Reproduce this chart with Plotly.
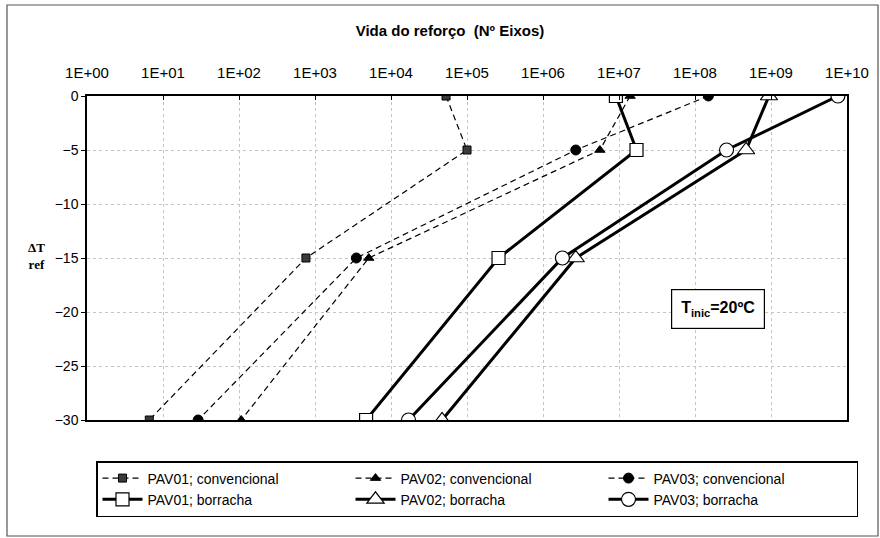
import plotly.graph_objects as go

# ---- data ----
delta_t = [0, -5, -15, -30]
pav01_conv = [5.3e4, 1.0e5, 7.6e2, 6.6]
pav02_conv = [1.4e7, 5.6e6, 5.1e3, 1.07e2]
pav03_conv = [1.5e8, 2.7e6, 3.5e3, 29]
pav01_borr = [9.1e6, 1.7e7, 2.6e5, 4.7e3]
pav02_borr = [9.4e8, 4.7e8, 2.7e6, 4.7e4]
pav03_borr = [7.6e9, 2.6e8, 1.8e6, 1.7e4]

x_tickvals = [1e0, 1e1, 1e2, 1e3, 1e4, 1e5, 1e6, 1e7, 1e8, 1e9, 1e10]
x_ticktext = ["1E+00", "1E+01", "1E+02", "1E+03", "1E+04", "1E+05",
              "1E+06", "1E+07", "1E+08", "1E+09", "1E+10"]
y_tickvals = [0, -5, -10, -15, -20, -25, -30]

FONT = "Liberation Sans, Arial, sans-serif"
W, H = 880, 538
L, R, T, B = 87, 33, 96, 118
PW, PH = W - L - R, H - T - B

def px_x(px):
    return (px - L) / PW

def px_y(py):
    return 1 - (py - T) / PH

fig = go.Figure()

conv = [
    ("PAV01; convencional", pav01_conv, "square", 8, "#3a3a3a"),
    ("PAV02; convencional", pav02_conv, "triangle-up", 9, "black"),
    ("PAV03; convencional", pav03_conv, "circle", 10, "black"),
]
borr = [
    ("PAV01; borracha", pav01_borr, "square", 13),
    ("PAV02; borracha", pav02_borr, "triangle-up", 15),
    ("PAV03; borracha", pav03_borr, "circle", 14),
]

for name, xs, sym, size, col in conv:
    fig.add_trace(go.Scatter(
        x=xs, y=delta_t, name=name, mode="lines+markers",
        line=dict(color="black", width=1.2, dash="6px,4px"),
        marker=dict(symbol=sym, size=size, color=col,
                    line=dict(color="black", width=1)),
    ))

for name, xs, sym, size in borr:
    fig.add_trace(go.Scatter(
        x=xs, y=delta_t, name=name, mode="lines+markers",
        line=dict(color="black", width=3),
        marker=dict(symbol=sym, size=size, color="white",
                    line=dict(color="black", width=1.2)),
    ))

fig.update_layout(
    width=W, height=H,
    margin=dict(l=L, r=R, t=T, b=B, autoexpand=False),
    paper_bgcolor="white", plot_bgcolor="white",
    font=dict(family=FONT, size=14, color="black"),
    title=dict(text="<b>Vida do reforço  (Nº Eixos)</b>",
               x=450 / W, xref="container", xanchor="center",
               y=1 - 31 / H, yref="container", yanchor="middle",
               font=dict(family=FONT, size=15, color="black")),
    showlegend=True,
    legend=dict(orientation="h", x=px_x(96), y=px_y(461),
                xanchor="left", yanchor="top",
                bordercolor="black", borderwidth=1.5,
                font=dict(family=FONT, size=14, color="black"),
                entrywidth=198, itemwidth=40,
                traceorder="normal", bgcolor="white",
                tracegroupgap=0),
)

fig.update_xaxes(
    type="log", range=[0, 10], side="top", automargin=False,
    tickvals=x_tickvals, ticktext=x_ticktext,
    ticks="inside", ticklen=4, tickcolor="black", ticklabelstandoff=10,
    showline=True, linecolor="black", linewidth=1.5, mirror=True,
    showgrid=True, gridcolor="#c4c4c4", griddash="dot", gridwidth=1,
    tickfont=dict(family=FONT, size=15), zeroline=False,
)
fig.update_yaxes(
    range=[-30, 0], tickvals=y_tickvals, automargin=False,
    ticks="outside", ticklen=4, tickcolor="black",
    showline=True, linecolor="black", linewidth=1.5, mirror=True,
    showgrid=True, gridcolor="#c4c4c4", griddash="dot", gridwidth=1,
    tickfont=dict(family=FONT, size=14), zeroline=False,
)

# y-axis label
fig.add_annotation(
    text="<b>ΔT<br>ref</b>", xref="paper", yref="paper",
    x=px_x(26), y=px_y(256), showarrow=False,
    font=dict(family="Liberation Serif, Times New Roman, serif", size=13),
    align="center",
)

# T inic box
fig.add_annotation(
    text="<b>T<sub>inic</sub>=20ºC</b>", xref="paper", yref="paper",
    x=px_x(765), y=px_y(329), showarrow=False,
    font=dict(family=FONT, size=16, color="black"),
    bordercolor="black", borderwidth=1.2, borderpad=9, bgcolor="white",
)

# outer chart frame
fig.add_shape(type="rect", xref="paper", yref="paper",
              x0=px_x(7), x1=px_x(878), y0=px_y(536), y1=px_y(5),
              line=dict(color="#555", width=1.2), layer="below")

fig.write_html("out.html",
               config={"displayModeBar": False},
               post_script="document.body.style.margin='0';document.body.style.padding='0';")
